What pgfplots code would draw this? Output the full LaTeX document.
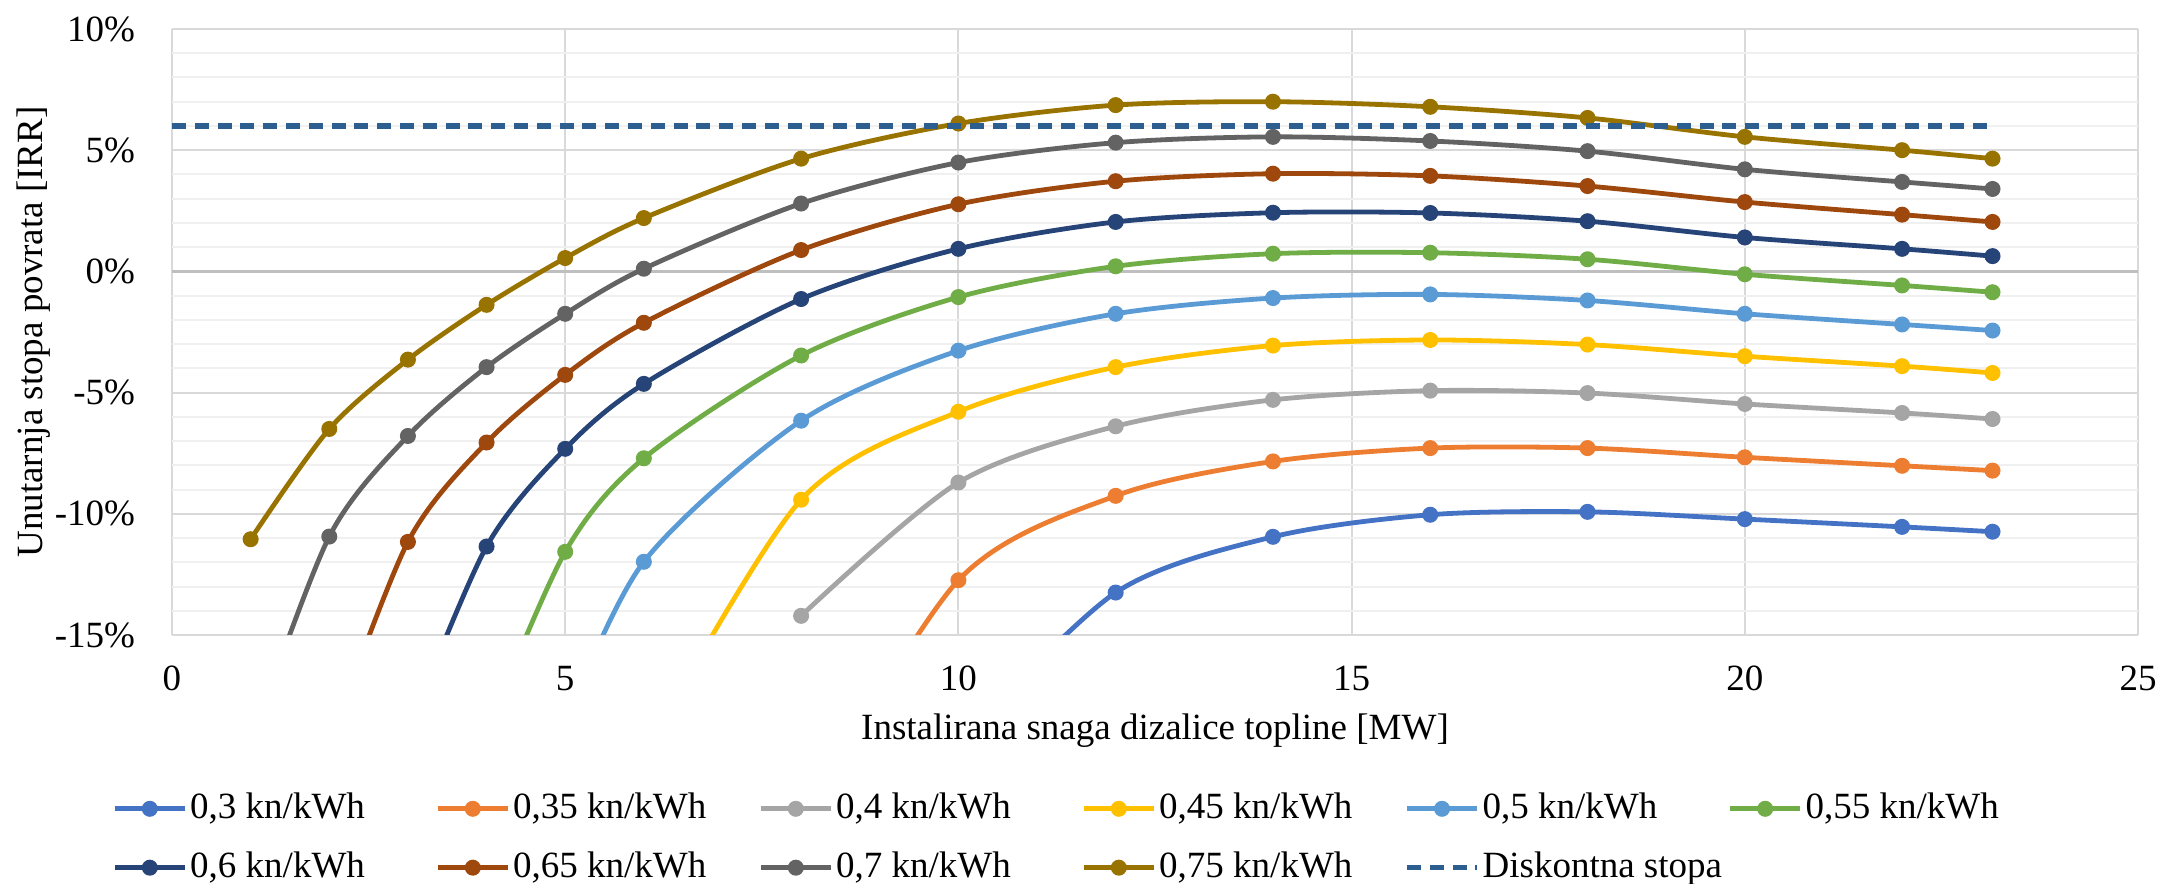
\documentclass[border=0pt]{standalone}
\usepackage{fontspec}
\setmainfont{Liberation Serif}
\usepackage{pgfplots}
\pgfplotsset{compat=1.18}
\definecolor{c1}{HTML}{4472C4}
\definecolor{c2}{HTML}{ED7D31}
\definecolor{c3}{HTML}{A5A5A5}
\definecolor{c4}{HTML}{FFC000}
\definecolor{c5}{HTML}{5B9BD5}
\definecolor{c6}{HTML}{70AD47}
\definecolor{c7}{HTML}{264478}
\definecolor{c8}{HTML}{9E480E}
\definecolor{c9}{HTML}{636363}
\definecolor{c10}{HTML}{997300}
\definecolor{cdash}{HTML}{2C5F8F}
\definecolor{gridmaj}{HTML}{D9D9D9}
\definecolor{gridmin}{HTML}{F0F0F0}
\definecolor{zeroline}{HTML}{BFBFBF}
\pgfplotsset{
  ser/.style={color=#1, line width=1.2pt, smooth, mark=*, mark size=1.8pt,
    mark options={solid, line width=0.4pt, fill=#1, draw=#1}},
}
\newcommand{\legtxt}[1]{\makebox[55pt][l]{#1}}
\begin{document}
\begin{tikzpicture}[font=\fontsize{9.25pt}{11.1pt}\selectfont]
\path[use as bounding box] (-43pt,-62.25pt) rectangle (497pt,158.75pt);
\begin{axis}[
  scale only axis, width=491.5pt, height=151.5pt,
  at={(0pt,0pt)}, anchor=south west,
  xmin=0, xmax=25, ymin=-15, ymax=10,
  xtick={0,5,10,15,20,25}, xticklabels={0,5,10,15,20,25},
  ytick={-15,-10,-5,0,5,10},
  yticklabels={-15\%,-10\%,-5\%,0\%,5\%,10\%},
  minor y tick num=4,
  xmajorgrids, ymajorgrids, yminorgrids,
  major grid style={draw=gridmaj, line width=0.5pt},
  minor grid style={draw=gridmin, line width=0.5pt},
  axis line style={draw=none},
  major tick length=0pt, minor tick length=0pt,
  yticklabel style={xshift=-5.7pt},
  xticklabel style={yshift=-4.3pt},
  xlabel={Instalirana snaga dizalice topline [MW]},
  ylabel={Unutarnja stopa povrata [IRR]},
  xlabel style={at={(axis description cs:0.5,0)}, anchor=base, yshift=-26.25pt},
  ylabel style={at={(axis description cs:-0.0659,0.5)}, anchor=base},
  clip marker paths=true,
  legend columns=6,
  legend cell align=left,
  legend image code/.code={\draw[mark repeat=2,mark phase=2] plot coordinates {(0pt,0pt)(8.75pt,0pt)(17.5pt,0pt)};},
  legend style={draw=none, fill=none, inner sep=0pt, outer sep=0pt,
    at={(axis description cs:-0.0303,-0.2607)}, anchor=north west,
    nodes={inner sep=0pt, outer sep=0pt},
    /tikz/every odd column/.append style={column sep=0.75pt},
    /tikz/every even column/.append style={column sep=6.3pt},
    row sep=6.8pt},
]
\addplot[zeroline, line width=0.75pt, forget plot] coordinates {(0,0) (25,0)};
% 0,3
\addplot[ser=c1] coordinates {(10,-19.5) (12,-13.25) (14,-10.95) (16,-10.04) (18,-9.92) (20,-10.22) (22,-10.54) (23.15,-10.74)};
\addlegendentry{\legtxt{0,3 kn/kWh}}
% 0,35
\addplot[ser=c2] coordinates {(8,-23) (10,-12.74) (12,-9.26) (14,-7.84) (16,-7.29) (18,-7.29) (20,-7.67) (22,-8.02) (23.15,-8.22)};
\addlegendentry{\legtxt{0,35 kn/kWh}}
% 0,4
\addplot[ser=c3] coordinates {(8,-14.21) (10,-8.71) (12,-6.39) (14,-5.3) (16,-4.92) (18,-5.02) (20,-5.47) (22,-5.84) (23.15,-6.09)};
\addlegendentry{\legtxt{0,4 kn/kWh}}
% 0,45
\addplot[ser=c4] coordinates {(6,-20) (8,-9.42) (10,-5.79) (12,-3.95) (14,-3.06) (16,-2.83) (18,-3.02) (20,-3.5) (22,-3.91) (23.15,-4.19)};
\addlegendentry{\legtxt{0,45 kn/kWh}}
% 0,5
\addplot[ser=c5] coordinates {(5,-18.7) (6,-11.98) (8,-6.16) (10,-3.27) (12,-1.75) (14,-1.1) (16,-0.95) (18,-1.2) (20,-1.75) (22,-2.19) (23.15,-2.44)};
\addlegendentry{\legtxt{0,5 kn/kWh}}
% 0,55
\addplot[ser=c6] coordinates {(4,-19) (5,-11.57) (6,-7.71) (8,-3.47) (10,-1.06) (12,0.21) (14,0.73) (16,0.77) (18,0.5) (20,-0.12) (22,-0.58) (23.15,-0.86)};
\addlegendentry{\legtxt{0,55 kn/kWh}}
% 0,6
\addplot[ser=c7] coordinates {(3,-19) (4,-11.35) (5,-7.32) (6,-4.64) (8,-1.14) (10,0.93) (12,2.04) (14,2.42) (16,2.41) (18,2.07) (20,1.4) (22,0.93) (23.15,0.63)};
\addlegendentry{\legtxt{0,6 kn/kWh}}
% 0,65
\addplot[ser=c8] coordinates {(2,-19.5) (3,-11.16) (4,-7.06) (5,-4.27) (6,-2.12) (8,0.88) (10,2.77) (12,3.72) (14,4.03) (16,3.94) (18,3.52) (20,2.86) (22,2.34) (23.15,2.04)};
\addlegendentry{\legtxt{0,65 kn/kWh}}
% 0,7
\addplot[ser=c9] coordinates {(1,-19.5) (2,-10.94) (3,-6.79) (4,-3.95) (5,-1.75) (6,0.11) (8,2.8) (10,4.49) (12,5.31) (14,5.55) (16,5.38) (18,4.96) (20,4.21) (22,3.69) (23.15,3.4)};
\addlegendentry{\legtxt{0,7 kn/kWh}}
% 0,75
\addplot[ser=c10] coordinates {(1,-11.05) (2,-6.5) (3,-3.64) (4,-1.38) (5,0.55) (6,2.2) (8,4.65) (10,6.1) (12,6.86) (14,7.0) (16,6.79) (18,6.33) (20,5.55) (22,5.0) (23.15,4.65)};
\addlegendentry{\legtxt{0,75 kn/kWh}}
% Diskontna stopa
\addplot[cdash, line width=1.3pt, dash pattern=on 3.5pt off 2.2pt, mark=none] coordinates {(0,6) (23.15,6)};
\addlegendentry{\legtxt{Diskontna stopa}}
\end{axis}
\end{tikzpicture}
\end{document}
